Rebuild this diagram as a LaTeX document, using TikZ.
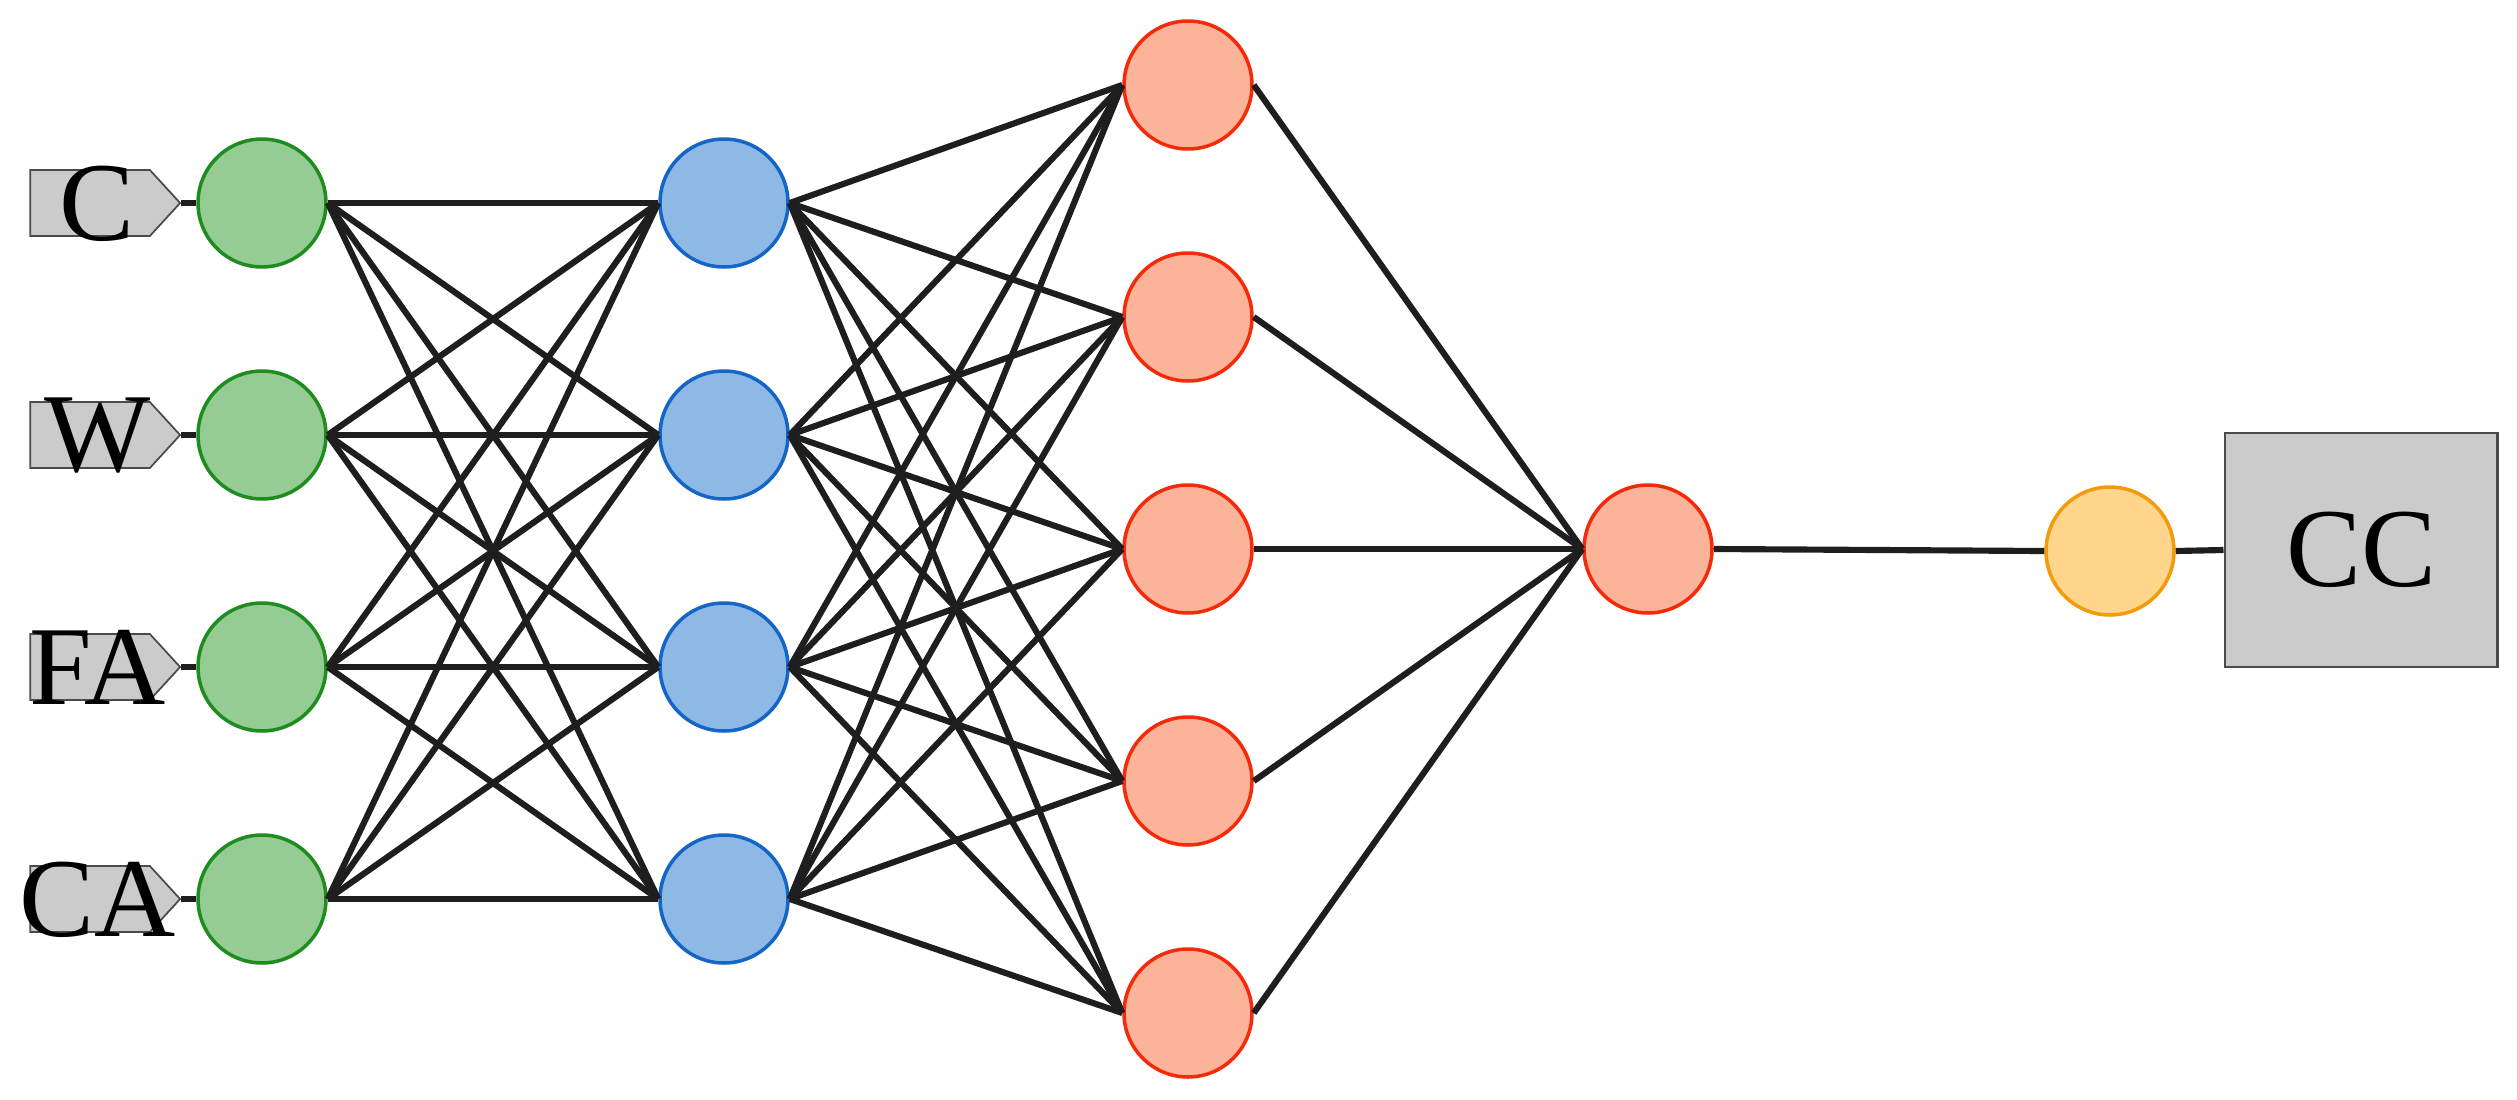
\documentclass[tikz,border=0pt]{standalone}
\usepackage{fontspec}
\setmainfont{Liberation Serif}
\usetikzlibrary{shapes.symbols}
\definecolor{gf}{HTML}{94CC94}
\definecolor{gd}{HTML}{1E8C1E}
\definecolor{bf}{HTML}{8EB9E4}
\definecolor{bd}{HTML}{1565C8}
\definecolor{rf}{HTML}{FBB39A}
\definecolor{rd}{HTML}{F52A0A}
\definecolor{yf}{HTML}{FFD68C}
\definecolor{yd}{HTML}{F59A0A}
\definecolor{lg}{HTML}{CBCBCB}
\definecolor{k}{HTML}{1E1E1E}

\begin{document}
\begin{tikzpicture}[x=0.02cm, y=-0.02cm,
		neuron/.style={circle, line width=2pt, minimum size=2.56cm, inner sep=0pt},
		inlabel/.style={signal, signal to=east, signal pointer angle=95, fill=lg, draw=k!80,
				line width=1pt, minimum width=3cm, minimum height=1.32cm, inner sep=0pt,
				font=\fontsize{64}{64}\selectfont},
		outbox/.style={rectangle, fill=lg, draw=k!80, line width=1.2pt, minimum width=5.46cm,
				minimum height=4.68cm, inner sep=0pt, font=\fontsize{64}{64}\selectfont},
		wire/.style={line width=3.5pt, k}]
			\useasboundingbox (0,0) rectangle (2517,1099);

			% Input labels, input and first hidden layer
			\foreach \n/\y/\t in {1/203/C, 2/435/W, 3/667/FA, 4/899/CA} {
					\node[inlabel] (l\n) at (90,\y) {\makebox[0pt]{\hspace{0.3cm}\smash{\raisebox{-0.5\height}{\t}}}};
					\node[neuron, fill=gf, draw=gd] (i\n) at (262,\y) {};
					\node[neuron, fill=bf, draw=bd] (h\n) at (724,\y) {};
				}

			% Second hidden layer
			\foreach \n/\y in {1/85, 2/317, 3/549, 4/781, 5/1013} {
					\node[neuron, fill=rf, draw=rd] (r\n) at (1188,\y) {};
				}

			% Merge and output
			\node[neuron, fill=rf, draw=rd] (m) at (1648,549) {};
			\node[neuron, fill=yf, draw=yd] (o) at (2110,551) {};
			\node[outbox] (cc) at (2361,550) {CC};

			% Connections
			\foreach \a in {1,...,4} {
					\draw[wire] (l\a.east) -- (i\a.west);
					\foreach \b in {1,...,4} {
							\draw[wire] (i\a.east) -- (h\b.west);
						}
					\foreach \b in {1,...,5} {
							\draw[wire] (h\a.east) -- (r\b.west);
						}
				}
			\foreach \b in {1,...,5} {
					\draw[wire] (r\b.east) -- (m.west);
				}
			\draw[wire] (m.east) -- (o.west);
			\draw[wire] (o.east) -- (cc.west);
		\end{tikzpicture}
\end{document}
